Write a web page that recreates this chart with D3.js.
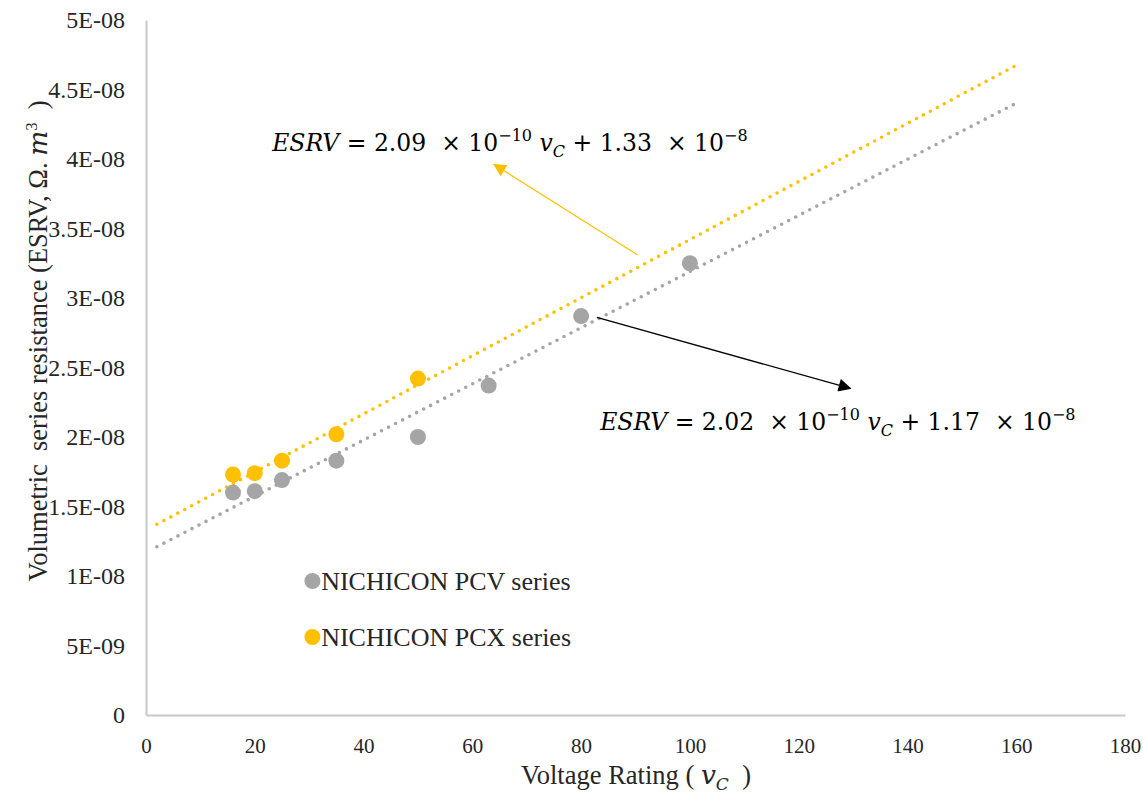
<!DOCTYPE html>
<html>
<head>
<meta charset="utf-8">
<script src="https://cdn.jsdelivr.net/npm/d3@7"></script>
<style>
  body { margin: 0; background: #fff; }
  svg { display: block; }
</style>
</head>
<body>
<svg width="1143" height="800"></svg>
<script>
// data
var pcvVoltage = [16, 20, 25, 35, 50, 63, 80, 100];
var pcvEsrv = [1.60e-8, 1.61e-8, 1.69e-8, 1.83e-8, 2.00e-8, 2.37e-8, 2.87e-8, 3.25e-8];
var pcxVoltage = [16, 20, 25, 35, 50];
var pcxEsrv = [1.73e-8, 1.74e-8, 1.83e-8, 2.02e-8, 2.42e-8];

// linear trendlines (slope, intercept) and their drawn range
var pcvFit = [2.02e-10, 1.17e-8];
var pcxFit = [2.09e-10, 1.33e-8];
var fitRange = [2, 160];

var xTicks = [0, 20, 40, 60, 80, 100, 120, 140, 160, 180];
var yTicks = [0, 5e-9, 1e-8, 1.5e-8, 2e-8, 2.5e-8, 3e-8, 3.5e-8, 4e-8, 4.5e-8, 5e-8];
var yTickLabels = ["0", "5E-09", "1E-08", "1.5E-08", "2E-08", "2.5E-08", "3E-08", "3.5E-08", "4E-08", "4.5E-08", "5E-08"];

var legendNames = ["NICHICON PCV series", "NICHICON PCX series"];

var gray = "#a5a5a5", gold = "#ffc000";
var serif = "'Liberation Serif', 'Times New Roman', serif";
var mathFont = "'DejaVu Serif', serif";

var svg = d3.select("svg");

var x = d3.scaleLinear().domain([0, 180]).range([146, 1125]);
var y = d3.scaleLinear().domain([0, 5e-8]).range([715, 20]);

// axes
var xAxis = svg.append("g")
  .attr("transform", "translate(0," + y(0) + ")")
  .call(d3.axisBottom(x).tickValues(xTicks).tickSize(0).tickPadding(23));
var yAxis = svg.append("g")
  .attr("transform", "translate(" + x(0) + ",0)")
  .call(d3.axisLeft(y).tickValues(yTicks).tickSize(0).tickPadding(21)
    .tickFormat(function(d, i) { return yTickLabels[i]; }));

[xAxis, yAxis].forEach(function(g) {
  g.select(".domain").attr("stroke", "#c8c8c8").attr("stroke-width", 2);
  g.selectAll("text").style("font-family", serif).attr("fill", "#262626");
});
xAxis.selectAll("text").style("font-size", "21px");
yAxis.selectAll("text").style("font-size", "24px");

// trendlines
function trend(fit, color) {
  var pts = fitRange.map(function(v) { return [x(v), y(fit[0] * v + fit[1])]; });
  svg.append("path")
    .attr("d", d3.line()(pts))
    .attr("fill", "none")
    .attr("stroke", color)
    .attr("stroke-width", 3.6)
    .attr("stroke-linecap", "round")
    .attr("stroke-dasharray", "0 7.9");
}
trend(pcvFit, gray);
trend(pcxFit, gold);

// points
function points(xs, ys, color) {
  svg.append("g").selectAll("circle")
    .data(xs)
    .enter().append("circle")
    .attr("cx", function(d) { return x(d); })
    .attr("cy", function(d, i) { return y(ys[i]); })
    .attr("r", 8)
    .attr("fill", color);
}
points(pcvVoltage, pcvEsrv, gray);
points(pcxVoltage, pcxEsrv, gold);

// arrows
var defs = svg.append("defs");
function marker(id, color) {
  defs.append("marker")
    .attr("id", id)
    .attr("viewBox", "0 0 10 10")
    .attr("refX", 9).attr("refY", 5)
    .attr("markerWidth", 17).attr("markerHeight", 13)
    .attr("markerUnits", "userSpaceOnUse")
    .attr("orient", "auto")
    .append("path").attr("d", "M0,0L10,5L0,10Z").attr("fill", color);
}
marker("headGold", gold);
marker("headBlack", "#000");

svg.append("line")
  .attr("x1", x(90.4)).attr("y1", y(3.31e-8))
  .attr("x2", x(64.0)).attr("y2", y(3.96e-8))
  .attr("stroke", gold).attr("stroke-width", 1.2)
  .attr("marker-end", "url(#headGold)");
svg.append("line")
  .attr("x1", x(82.9)).attr("y1", y(2.86e-8))
  .attr("x2", x(129.5)).attr("y2", y(2.35e-8))
  .attr("stroke", "#000").attr("stroke-width", 1.3)
  .attr("marker-end", "url(#headBlack)");

// equations
function equation(px, py, slope, icpt) {
  var t = svg.append("text")
    .attr("x", px).attr("y", py)
    .style("font-family", mathFont).style("font-size", "23.5px").attr("fill", "#000")
    .style("white-space", "pre");
  t.append("tspan").style("font-style", "italic").text("ESRV");
  t.append("tspan").text(" = " + slope + "  \u00d7 10");
  t.append("tspan").attr("dy", -10).style("font-size", "16px").text("\u221210");
  t.append("tspan").attr("dy", 10).text(" ");
  t.append("tspan").style("font-style", "italic").text("v");
  t.append("tspan").attr("dy", 6).style("font-size", "16px").style("font-style", "italic").text("C");
  t.append("tspan").attr("dy", -6).text(" + " + icpt + "  \u00d7 10");
  t.append("tspan").attr("dy", -10).style("font-size", "16px").text("\u22128");
}
equation(x(23.2), y(4.06e-8), "2.09", "1.33");
equation(x(83.5), y(2.05e-8), "2.02", "1.17");

// legend
var legend = svg.append("g");
[gray, gold].forEach(function(c, i) {
  var ly = y(1.0e-8) + 5 + i * 56;
  legend.append("circle").attr("cx", x(30.6)).attr("cy", ly).attr("r", 8).attr("fill", c);
  legend.append("text").attr("x", x(32.2)).attr("y", ly + 9)
    .style("font-family", serif).style("font-size", "26px").attr("fill", "#262626")
    .text(legendNames[i]);
});

// axis titles
var xt = svg.append("text")
  .attr("x", 636).attr("y", 784)
  .attr("text-anchor", "middle")
  .style("font-family", serif).style("font-size", "26.5px").attr("fill", "#262626")
  .style("white-space", "pre");
xt.append("tspan").text("Voltage Rating ( ");
xt.append("tspan").style("font-family", mathFont).style("font-style", "italic").text("v");
xt.append("tspan").attr("dy", 6).style("font-family", mathFont).style("font-style", "italic").style("font-size", "17px").text("C");
xt.append("tspan").attr("dy", -6).text("  )");

var yt = svg.append("text")
  .attr("transform", "translate(47,341) rotate(-90)")
  .attr("text-anchor", "middle")
  .style("font-family", serif).style("font-size", "26.5px").attr("fill", "#262626")
  .style("white-space", "pre");
yt.append("tspan").text("Volumetric  series resistance (ESRV, \u03a9. ");
yt.append("tspan").style("font-family", mathFont).style("font-style", "italic").text("m");
yt.append("tspan").attr("dy", -10).style("font-size", "16px").text("3");
yt.append("tspan").attr("dy", 10).text("  )");
</script>
</body>
</html>
